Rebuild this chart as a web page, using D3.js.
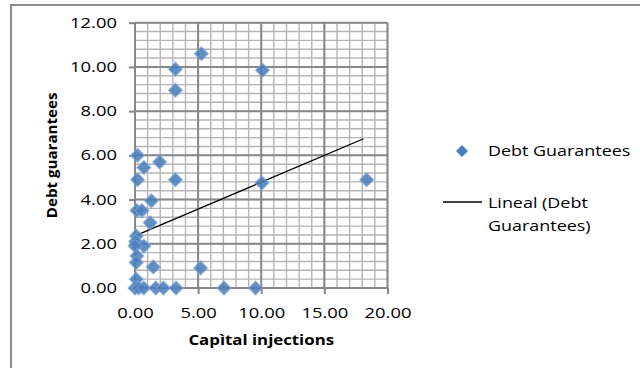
<!DOCTYPE html>
<html><head><meta charset="utf-8">
<script src="https://cdn.jsdelivr.net/npm/d3@7"></script>
<style>body{margin:0;background:#fff} svg text{font-family:"Open Sans",sans-serif;fill:#000}</style>
</head><body><svg id="c" width="640" height="368"></svg>
<script>
// ---- data ----
const capitalInjections = [3.2, 3.2, 5.25, 10.1, 0.2, 0.7, 1.95, 0.2, 3.2, 10.05, 18.35, 1.3, 0.15, 0.55, 1.2, 0.1, 0.05, 0.7, 0.0, 0.15, 0.1, 1.45, 5.2, 0.1, 0.0, 0.3, 0.7, 1.65, 2.25, 3.25, 7.05, 9.55];
const debtGuarantees    = [9.9, 8.95, 10.6, 9.85, 6.0, 5.45, 5.7, 4.9, 4.9, 4.75, 4.9, 3.95, 3.5, 3.5, 2.95, 2.35, 2.1, 1.9, 1.9, 1.45, 1.15, 0.95, 0.9, 0.4, 0.0, 0.0, 0.0, 0.0, 0.0, 0.0, 0.0, 0.0];
const xTicks = [0, 5, 10, 15, 20];
const yTicks = [0, 2, 4, 6, 8, 10, 12];
const xMinorStep = 1;
const yMinorStep = 0.4;
const trendX = [0.0, 18.1];
const trendY = [2.36, 6.75];
const seriesName = "Debt Guarantees";
const trendName = ["Lineal (Debt", "Guarantees)"];
const xTitle = "Capìtal injections";
const yTitle = "Debt guarantees";

// ---- drawing ----
const svg = d3.select("#c");
const P = {l: 135, r: 387.5, t: 22.7, b: 288};
const x = d3.scaleLinear().domain([0, 20]).range([P.l, P.r]);
const y = d3.scaleLinear().domain([0, 12]).range([P.b, P.t]);
const fmt = d3.format(".2f");

function stretch(sel, k) {
  sel.each(function() {
    const w = this.getComputedTextLength();
    d3.select(this).attr("textLength", w * k).attr("lengthAdjust", "spacingAndGlyphs");
  });
}

// outer chart frame
svg.append("rect").attr("x", 11).attr("y", 5).attr("width", 700).attr("height", 400)
  .attr("fill", "none").attr("stroke", "#8c8c8c").attr("stroke-width", 2);

// minor gridlines
const grid = svg.append("g");
grid.selectAll("line.mx").data(d3.range(0, 20.001, xMinorStep)).join("line")
  .attr("x1", d => x(d)).attr("x2", d => x(d)).attr("y1", P.t).attr("y2", P.b)
  .attr("stroke", "#b4b4b4").attr("stroke-width", 1.4);
grid.selectAll("line.my").data(d3.range(0, 12.001, yMinorStep)).join("line")
  .attr("y1", d => y(d)).attr("y2", d => y(d)).attr("x1", P.l).attr("x2", P.r)
  .attr("stroke", "#b4b4b4").attr("stroke-width", 1.4);
// major gridlines
grid.selectAll("line.Mx").data(xTicks).join("line")
  .attr("x1", d => x(d)).attr("x2", d => x(d)).attr("y1", P.t).attr("y2", P.b)
  .attr("stroke", "#878787").attr("stroke-width", 2);
grid.selectAll("line.My").data(yTicks).join("line")
  .attr("y1", d => y(d)).attr("y2", d => y(d)).attr("x1", P.l).attr("x2", P.r)
  .attr("stroke", "#878787").attr("stroke-width", 2);

// axes
const ax = svg.append("g").attr("transform", `translate(0,${P.b})`)
  .call(d3.axisBottom(x).tickValues(xTicks).tickFormat(fmt).tickSize(6).tickPadding(14));
const ay = svg.append("g").attr("transform", `translate(${P.l},0)`)
  .call(d3.axisLeft(y).tickValues(yTicks).tickFormat(fmt).tickSize(6).tickPadding(12));
[ax, ay].forEach(a => {
  a.select(".domain").remove();
  a.selectAll(".tick line").attr("stroke", "#878787").attr("stroke-width", 2);
  a.selectAll(".tick text").attr("font-size", 14.5).attr("fill", "#000")
    .style("font-family", '"Open Sans", sans-serif');
  stretch(a.selectAll(".tick text"), 1.27);
});

// trend line
svg.append("line")
  .attr("x1", x(trendX[0])).attr("y1", y(trendY[0]))
  .attr("x2", x(trendX[1])).attr("y2", y(trendY[1]))
  .attr("stroke", "#000").attr("stroke-width", 1.3);

// markers
const diamond = s => `M0,${-s}L${s},0L0,${s}L${-s},0Z`;
const pts = capitalInjections.map((v, i) => [v, debtGuarantees[i]]);
svg.append("g").selectAll("path").data(pts).join("path")
  .attr("d", diamond(7))
  .attr("transform", d => `translate(${x(d[0])},${y(d[1])})`)
  .attr("fill", "#4a7ebb").attr("fill-opacity", 0.88)
  .attr("stroke", "#86aad8").attr("stroke-width", 1.5).attr("stroke-opacity", 0.5);

// axis titles
const xt = svg.append("text").attr("x", (P.l + P.r) / 2).attr("y", 345)
  .attr("text-anchor", "middle").attr("font-size", 14).attr("font-weight", "bold").text(xTitle);
stretch(xt, 1.2);
const yt = svg.append("text").attr("transform", `translate(57,${(P.t + P.b) / 2}) rotate(-90)`)
  .attr("text-anchor", "middle").attr("font-size", 14).attr("font-weight", "bold").text(yTitle);
stretch(yt, 1.08);

// legend
const lg = svg.append("g");
lg.append("path").attr("d", diamond(6)).attr("transform", "translate(462,151)")
  .attr("fill", "#4a7ebb");
const l1 = lg.append("text").attr("x", 488).attr("y", 151).attr("dy", "0.35em")
  .attr("font-size", 14).text(seriesName);
lg.append("line").attr("x1", 443).attr("x2", 482).attr("y1", 202).attr("y2", 202)
  .attr("stroke", "#000").attr("stroke-width", 1.3);
const l2 = lg.selectAll("text.t").data(trendName).join("text")
  .attr("x", 488).attr("y", (d, i) => 203 + i * 23).attr("dy", "0.35em")
  .attr("font-size", 14).text(d => d);
stretch(l1, 1.28);
stretch(l2, 1.28);
</script></body></html>
